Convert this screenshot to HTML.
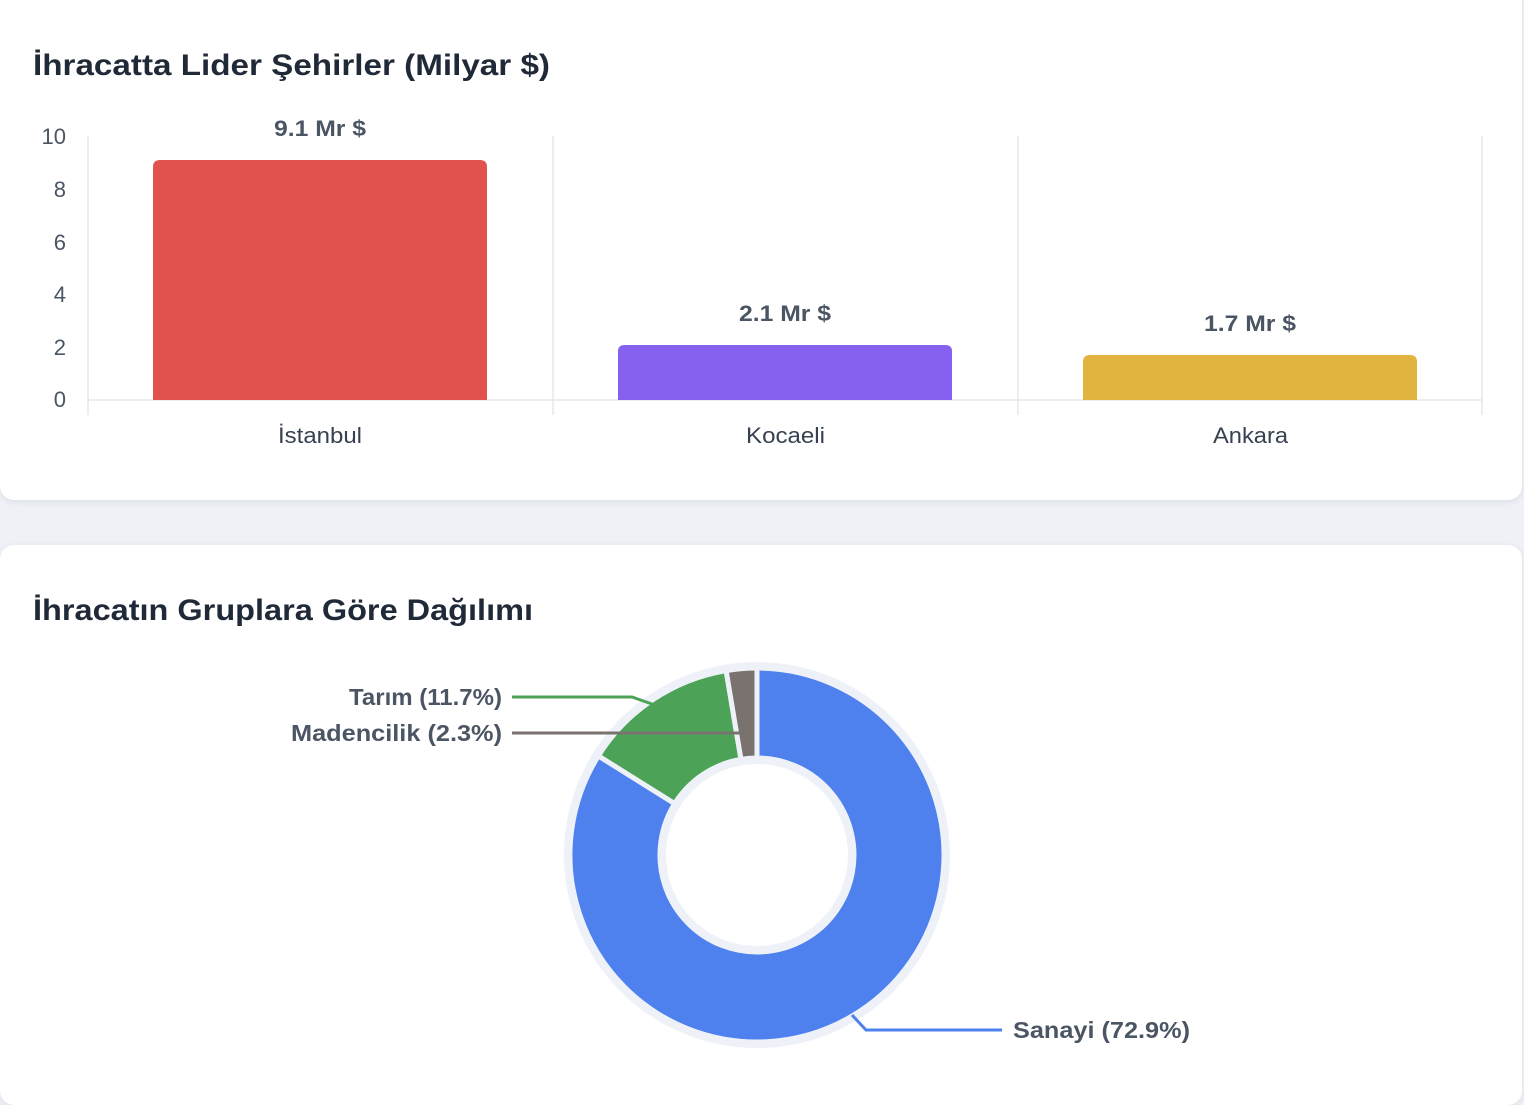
<!DOCTYPE html>
<html><head><meta charset="utf-8"><style>
html,body{margin:0;padding:0;background:#eef2f7;width:1524px;height:1082px;overflow:hidden;font-family:"Liberation Sans",Arial,sans-serif}
.card{position:absolute;left:0;width:1522px;background:#fff;border-radius:14px;box-shadow:0 2px 8px rgba(0,0,0,0.08)}
svg{position:absolute;left:0;top:0}
</style></head><body>
<div class="card" style="top:-20px;height:520px"></div>
<div class="card" style="top:545px;height:560px"></div>
<svg width="1524" height="1082" font-family="Liberation Sans, Arial, sans-serif">
<text x="33" y="75" font-size="30" font-weight="bold" fill="#1f2937" textLength="517" lengthAdjust="spacingAndGlyphs">İhracatta Lider Şehirler (Milyar $)</text>
<text x="33" y="620" font-size="30" font-weight="bold" fill="#1f2937" textLength="500" lengthAdjust="spacingAndGlyphs">İhracatın Gruplara Göre Dağılımı</text>
<g stroke="#e5e7eb" stroke-width="1.5">
<line x1="88" y1="136" x2="88" y2="415"/><line x1="553" y1="136" x2="553" y2="415"/>
<line x1="1018" y1="136" x2="1018" y2="415"/><line x1="1482" y1="136" x2="1482" y2="415"/>
<line x1="88" y1="400" x2="1482" y2="400"/>
</g>
<g font-size="22" fill="#4b5563" text-anchor="end">
<text x="66" y="144">10</text><text x="66" y="197">8</text><text x="66" y="250">6</text>
<text x="66" y="302">4</text><text x="66" y="355">2</text><text x="66" y="407">0</text>
</g>
<path d="M153,400 V167 Q153,160 160,160 H480 Q487,160 487,167 V400 Z" fill="#df524d"/>
<path d="M618,400 V351 Q618,345 625,345 H945 Q952,345 952,351 V400 Z" fill="#8661ef"/>
<path d="M1083,400 V362 Q1083,355 1090,355 H1410 Q1417,355 1417,362 V400 Z" fill="#e1b43f"/>
<g font-size="22" font-weight="bold" fill="#4b5563">
<text x="274" y="136" textLength="92" lengthAdjust="spacingAndGlyphs">9.1 Mr $</text>
<text x="739" y="321" textLength="92" lengthAdjust="spacingAndGlyphs">2.1 Mr $</text>
<text x="1204" y="331" textLength="92" lengthAdjust="spacingAndGlyphs">1.7 Mr $</text>
</g>
<g font-size="22" fill="#374151">
<text x="278" y="443" textLength="84" lengthAdjust="spacingAndGlyphs">İstanbul</text>
<text x="746" y="443" textLength="79" lengthAdjust="spacingAndGlyphs">Kocaeli</text>
<text x="1213" y="443" textLength="75" lengthAdjust="spacingAndGlyphs">Ankara</text>
</g>
<circle cx="757" cy="855" r="142" fill="none" stroke="#eef2f8" stroke-width="102"/>
<g stroke="#eef2f8" stroke-width="5" stroke-linejoin="round">
<path d="M757,668 A187,187 0 1 1 598.4,755.9 L674.7,803.6 A97,97 0 1 0 757,758 Z" fill="#4e81ed"/>
<path d="M598.4,755.9 A187,187 0 0 1 726.1,670.6 L741,759.4 A97,97 0 0 0 674.7,803.6 Z" fill="#4ca257"/>
<path d="M726.1,670.6 A187,187 0 0 1 757,668 L757,758 A97,97 0 0 0 741,759.4 Z" fill="#79726e"/>
</g>
<polyline points="512,697 632,697 652,704" fill="none" stroke="#4ca257" stroke-width="3"/>
<polyline points="512,733 740,733 742,729" fill="none" stroke="#79726e" stroke-width="3"/>
<polyline points="852,1015 866,1030 1002,1030" fill="none" stroke="#4e81ed" stroke-width="3"/>
<g font-size="23" font-weight="bold" fill="#4b5563">
<text x="349" y="705" textLength="153" lengthAdjust="spacingAndGlyphs">Tarım (11.7%)</text>
<text x="291" y="741" textLength="211" lengthAdjust="spacingAndGlyphs">Madencilik (2.3%)</text>
<text x="1013" y="1038" textLength="177" lengthAdjust="spacingAndGlyphs">Sanayi (72.9%)</text>
</g>
</svg>
</body></html>
